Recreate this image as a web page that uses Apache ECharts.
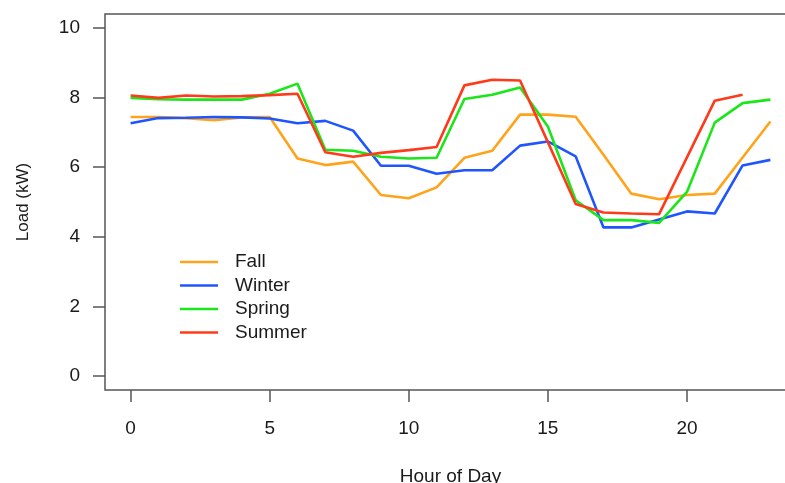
<!DOCTYPE html>
<html>
<head>
<meta charset="utf-8">
<script src="https://cdn.jsdelivr.net/npm/echarts@6/dist/echarts.min.js"></script>
<style>
  html, body { margin: 0; padding: 0; background: #fff; overflow: hidden; width: 785px; height: 483px; }
  #wrap { width: 785px; height: 483px; overflow: hidden; position: relative; }
  #main { width: 800px; height: 483px; position: absolute; left: 0; top: 0; }
</style>
</head>
<body>
<div id="wrap"><div id="main"></div></div>
<script>
// hour of day
var hours = [0, 1, 2, 3, 4, 5, 6, 7, 8, 9, 10, 11, 12, 13, 14, 15, 16, 17, 18, 19, 20, 21, 22, 23];
var xTicks = [0, 5, 10, 15, 20];
var yTicks = [0, 2, 4, 6, 8, 10];
var seasons = ['Fall', 'Winter', 'Spring', 'Summer'];

// average load (kW) per hour
var fall = [7.44, 7.44, 7.41, 7.35, 7.43, 7.44, 6.25, 6.06, 6.16, 5.20, 5.11, 5.42, 6.27, 6.47, 7.51, 7.51, 7.45, 6.36, 5.24, 5.08, 5.20, 5.24, 6.28, 7.31];
var winter = [7.26, 7.41, 7.42, 7.44, 7.43, 7.40, 7.26, 7.33, 7.05, 6.04, 6.04, 5.81, 5.91, 5.91, 6.62, 6.74, 6.31, 4.27, 4.27, 4.50, 4.73, 4.67, 6.05, 6.21];
var spring = [7.99, 7.95, 7.94, 7.94, 7.94, 8.11, 8.40, 6.50, 6.47, 6.30, 6.25, 6.27, 7.96, 8.08, 8.29, 7.17, 5.05, 4.48, 4.48, 4.40, 5.29, 7.28, 7.84, 7.94];
var summer = [8.06, 7.99, 8.06, 8.03, 8.04, 8.07, 8.11, 6.43, 6.30, 6.41, 6.49, 6.58, 8.35, 8.51, 8.49, 6.72, 4.94, 4.70, 4.67, 4.65, 6.28, 7.91, 8.08];

var colors = ['#ffa31a', '#1f55ff', '#1ae61a', '#ff3a1a'];
var FONT = 'Liberation Sans, Arial, sans-serif';

function pairs(vals) {
  var out = [];
  for (var i = 0; i < vals.length; i++) {
    out.push([hours[i], vals[i]]);
  }
  return out;
}

// canvas is a bit wider than the window so the right edge of the box falls off-screen, like the original
var chart = echarts.init(document.getElementById('main'), null, { renderer: 'canvas' });

var allVals = [fall, winter, spring, summer];
var series = [];
for (var s = 0; s < seasons.length; s++) {
  series.push({
    name: seasons[s],
    type: 'line',
    data: pairs(allVals[s]),
    symbol: 'none',
    lineStyle: { color: colors[s], width: 2.6 },
    itemStyle: { color: colors[s] }
  });
}

var option = {
  backgroundColor: '#fff',
  animation: false,
  grid: {
    left: 105, top: 14, right: 4, bottom: 93,
    outerBoundsMode: 'none',
    show: true, borderColor: '#555', borderWidth: 1.5,
    backgroundColor: 'transparent'
  },
  legend: {
    orient: 'vertical',
    left: 175, top: 246,
    itemWidth: 38, itemHeight: 14, itemGap: 1.5,
    textStyle: { fontFamily: FONT, fontSize: 19, lineHeight: 22, color: '#1a1a1a', padding: [0, 0, 0, 12] },
    data: seasons.map(function (n, i) {
      return { name: n, icon: 'path://M0,6 L38,6 L38,8.6 L0,8.6 Z', itemStyle: { color: colors[i] } };
    })
  },
  xAxis: {
    type: 'value',
    min: -0.92, max: 23.92,
    name: 'Hour of Day',
    nameLocation: 'middle',
    nameGap: 77,
    nameTextStyle: { fontFamily: FONT, fontSize: 19, color: '#1a1a1a' },
    axisLine: { show: false, onZero: false },
    axisTick: { show: true, length: 12, customValues: xTicks, lineStyle: { color: '#555', width: 1.5 } },
    axisLabel: { customValues: xTicks, margin: 29, fontFamily: FONT, fontSize: 19, color: '#1a1a1a' },
    splitLine: { show: false }
  },
  yAxis: {
    type: 'value',
    min: -0.4, max: 10.4,
    name: 'Load (kW)',
    nameLocation: 'middle',
    nameGap: 73,
    nameRotate: 90,
    nameTextStyle: { fontFamily: FONT, fontSize: 17, color: '#1a1a1a' },
    axisLine: { show: false, onZero: false },
    axisTick: { show: true, length: 12, customValues: yTicks, lineStyle: { color: '#555', width: 1.5 } },
    axisLabel: { customValues: yTicks, margin: 25, fontFamily: FONT, fontSize: 19, color: '#1a1a1a' },
    splitLine: { show: false }
  },
  series: series
};

chart.setOption(option);
</script>
</body>
</html>
